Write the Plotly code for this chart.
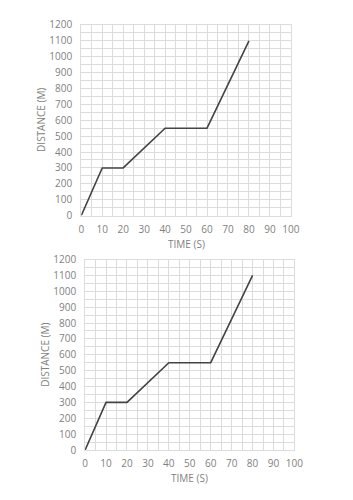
import plotly.graph_objects as go

time_s = [0, 10, 20, 40, 60, 80]
distance_m = [0, 300, 300, 550, 550, 1100]
x_ticks = [0, 10, 20, 30, 40, 50, 60, 70, 80, 90, 100]
y_ticks = [0, 100, 200, 300, 400, 500, 600, 700, 800, 900, 1000, 1100, 1200]

W, H = 353, 500
panels = [
    dict(left=81, right=298, top=17.5, bottom=214, xt_y=243, yt_x=40),
    dict(left=85, right=301.7, top=259.3, bottom=455.7, xt_y=485, yt_x=43.5),
]

fig = go.Figure()
font = dict(family="Open Sans, Noto Sans, sans-serif", size=10, color="#7f7f7f")
annotations = []
for i, p in enumerate(panels):
    n = "" if i == 0 else str(i + 1)
    fig.add_trace(go.Scatter(x=time_s, y=distance_m, mode="lines",
                             line=dict(color="#444444", width=1.6),
                             xaxis="x" + n, yaxis="y" + n, showlegend=False))
    xd = [p["left"] / W, p["right"] / W]
    yd = [1 - p["bottom"] / H, 1 - p["top"] / H]
    fig.layout["xaxis" + n] = dict(
        domain=xd, range=[0, 100], tickvals=x_ticks, anchor="y" + n,
        showgrid=True, gridcolor="#dcdcdc", gridwidth=1,
        minor=dict(dtick=5, tick0=0, showgrid=True, gridcolor="#dcdcdc", gridwidth=1),
        zeroline=False, showline=True, linecolor="#dcdcdc", mirror=True,
        ticks="outside", ticklen=4, tickcolor="rgba(0,0,0,0)",
        tickfont=font, fixedrange=True)
    fig.layout["yaxis" + n] = dict(
        domain=yd, range=[0, 1200], tickvals=y_ticks, anchor="x" + n,
        showgrid=True, gridcolor="#dcdcdc", gridwidth=1,
        minor=dict(dtick=50, tick0=0, showgrid=True, gridcolor="#dcdcdc", gridwidth=1),
        zeroline=False, showline=True, linecolor="#dcdcdc", mirror=True,
        ticks="outside", ticklen=6, tickcolor="rgba(0,0,0,0)",
        tickfont=font, fixedrange=True)
    annotations.append(dict(text="TIME (S)", x=(p["left"] + p["right"]) / 2 / W,
                            y=1 - p["xt_y"] / H, xref="paper", yref="paper",
                            showarrow=False, font=font, xanchor="center", yanchor="middle"))
    annotations.append(dict(text="DISTANCE (M)", x=p["yt_x"] / W,
                            y=1 - (p["top"] + p["bottom"]) / 2 / H, xref="paper", yref="paper",
                            showarrow=False, font=font, textangle=-90,
                            xanchor="center", yanchor="middle"))

fig.update_layout(width=W, height=H, margin=dict(l=0, r=0, t=0, b=0),
                  paper_bgcolor="white", plot_bgcolor="white",
                  annotations=annotations)
fig.write_html("out.html", config={"displayModeBar": False})
